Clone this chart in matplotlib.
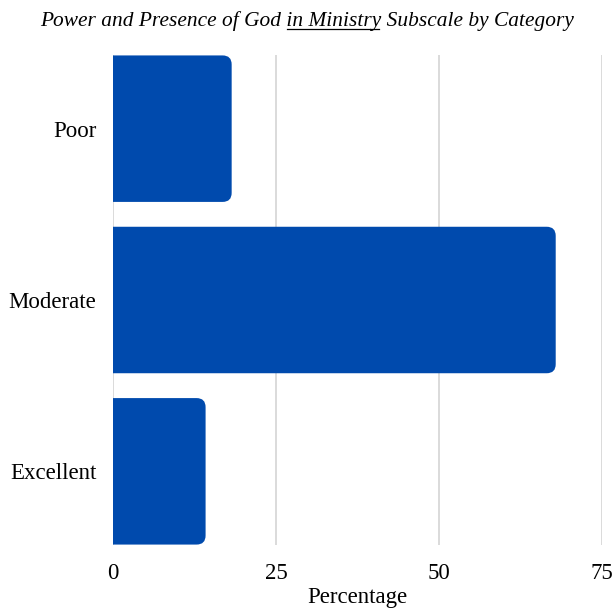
import matplotlib.pyplot as plt
from matplotlib.patches import PathPatch
from matplotlib.path import Path

# Category shares for the subscale
categories = ["Poor", "Moderate", "Excellent"]
percentages = [18.2, 67.9, 14.2]
x_ticks = [0, 25, 50, 75]

bar_color = "#004AAD"
grid_color = "#d4d4d4"

plt.rcParams['font.family'] = ['Liberation Serif', 'DejaVu Serif']

fig = plt.figure(figsize=(6.15, 6.10), dpi=100)
ax = fig.add_axes([113 / 615, 1 - 545 / 610, (602 - 113) / 615, 490 / 610])

bar_h = 0.855
ypos = list(range(len(categories)))[::-1]

# plain bars first, then swap them for ones with a rounded right end
bars = ax.barh(ypos, percentages, height=bar_h, color=bar_color, zorder=3)
ax.set_xlim(0, 75)
ax.set_ylim(-0.43, 2.43)

# corner radius in data units (x: ~6.52 px per unit, y: ~171 px per unit)
rx = 9 / 6.52
ry = 9 / 171
for b in bars:
    x0, y0 = b.get_x(), b.get_y()
    x1, y1 = x0 + b.get_width(), y0 + b.get_height()
    b.set_visible(False)
    verts = [(x0, y0), (x1 - rx, y0), (x1, y0), (x1, y0 + ry),
             (x1, y1 - ry), (x1, y1), (x1 - rx, y1), (x0, y1), (x0, y0)]
    codes = [Path.MOVETO, Path.LINETO, Path.CURVE3, Path.CURVE3,
             Path.LINETO, Path.CURVE3, Path.CURVE3, Path.LINETO, Path.CLOSEPOLY]
    ax.add_patch(PathPatch(Path(verts, codes), fc=bar_color, ec="none", zorder=3))

ax.set_yticks(ypos)
ax.set_yticklabels(categories, fontsize=16.5)
ax.set_xticks(x_ticks)
ax.set_xticklabels([str(t) for t in x_ticks], fontsize=16.5)
ax.tick_params(axis='both', length=0)
ax.tick_params(axis='y', pad=12)
ax.tick_params(axis='x', pad=13)
ax.set_xlabel("Percentage", fontsize=16.5, labelpad=2)

for s in ax.spines.values():
    s.set_visible(False)
ax.xaxis.grid(True, color=grid_color, linewidth=1.2, zorder=0)
ax.set_axisbelow(True)

# title with the middle phrase underlined
title = "Power and Presence of God in Ministry Subscale by Category"
t_size = 15.4
t = fig.text(0.5, 1 - 21 / 610, title, ha='center', va='center',
             fontsize=t_size, style='italic')
fig.canvas.draw()
r = fig.canvas.get_renderer()
bb = t.get_window_extent(r)


def text_width(s):
    tmp = fig.text(0, 0, s, fontsize=t_size, style='italic')
    w = tmp.get_window_extent(r).width
    tmp.remove()
    return w


end_x = bb.x0 + text_width("Power and Presence of God in Ministry") - 3
start_x = end_x - text_width("in Ministry") + 3
uy = bb.y0 + 2
fig.add_artist(plt.Line2D([start_x / fig.bbox.width, end_x / fig.bbox.width],
                          [uy / fig.bbox.height, uy / fig.bbox.height],
                          color='black', linewidth=0.9, transform=fig.transFigure))

fig.savefig("out.png", dpi=100)
